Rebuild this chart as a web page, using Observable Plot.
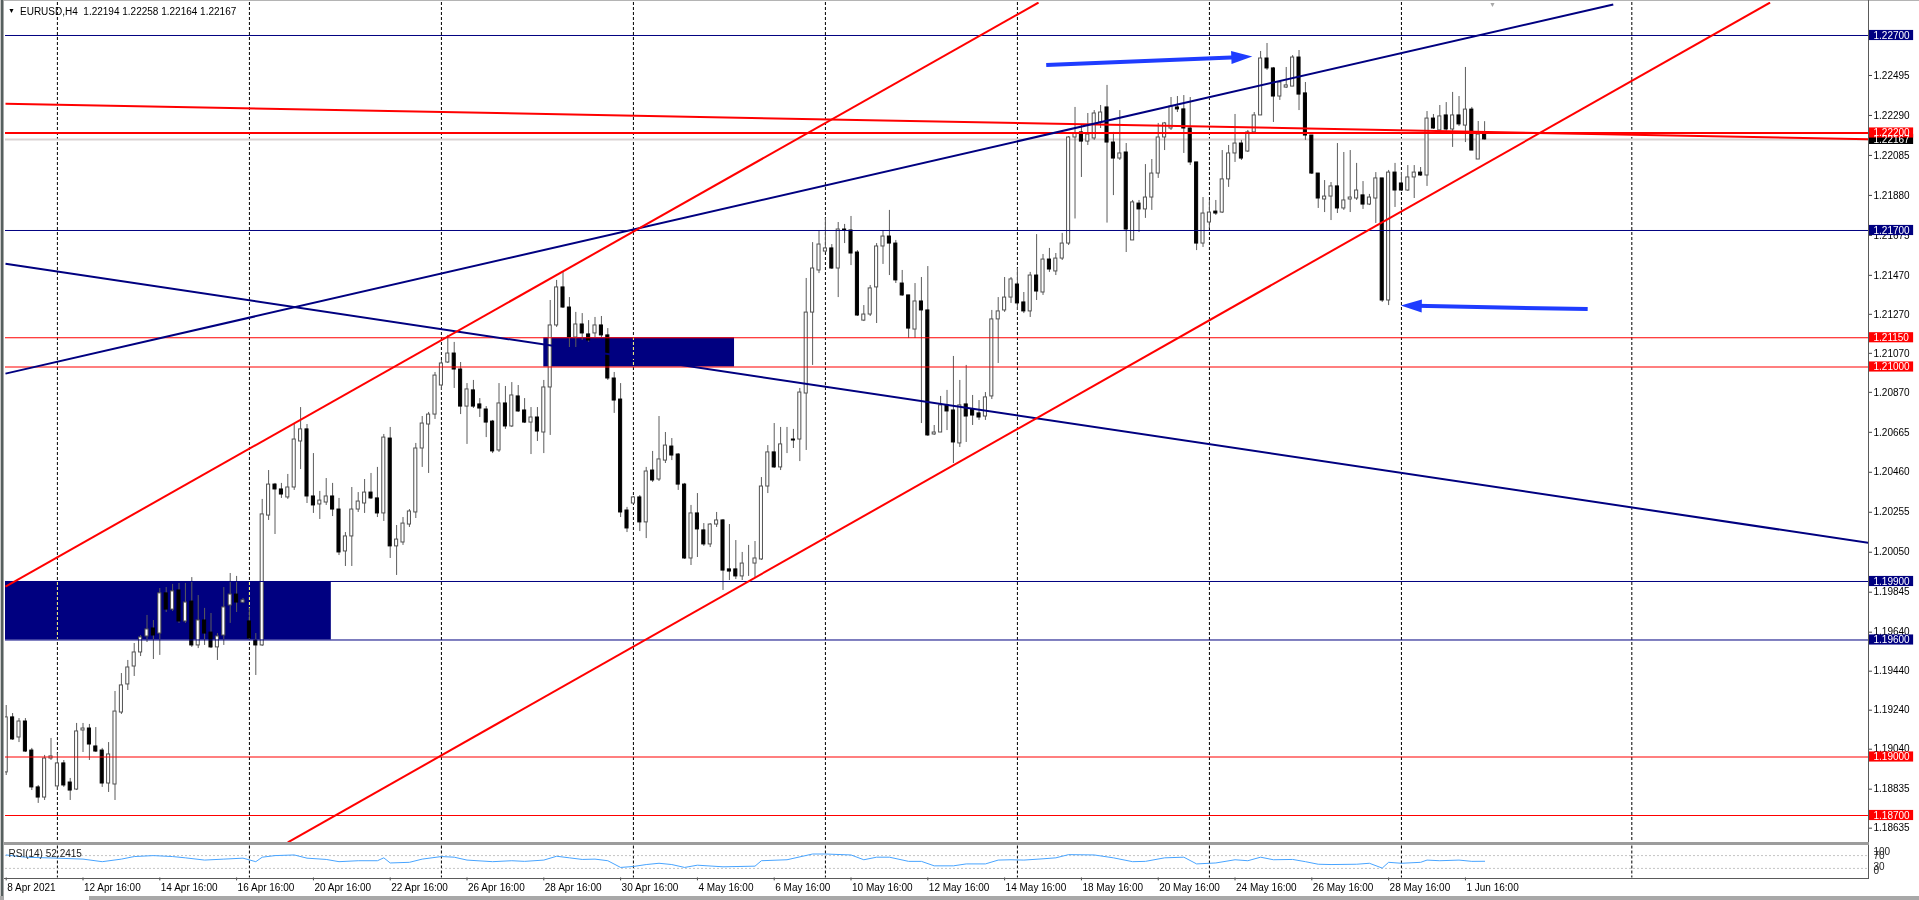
<!DOCTYPE html>
<html><head><meta charset="utf-8">
<script src="https://cdn.jsdelivr.net/npm/d3@7"></script>
<script src="https://cdn.jsdelivr.net/npm/@observablehq/plot@0.6"></script>
<style>
html,body{margin:0;padding:0;background:#fff;overflow:hidden;}
#wrap{position:relative;width:1919px;height:900px;font-family:"Liberation Sans",Arial,sans-serif;overflow:hidden;}
#main{position:absolute;left:0;top:0;}
#rsi{position:absolute;left:0;top:843px;}
.abs{position:absolute;}
</style></head><body><div id="wrap">
<div id="main"></div><div id="rsi"></div>
<div class="abs" style="left:0;top:0;width:1919px;height:1px;background:#b4b4b4"></div>
<div class="abs" style="left:0;top:0;width:4px;height:897px;background:linear-gradient(to right,#c8c8c8 0 1px,#56605f 1px 3px,#a8a8a8 3px 4px)"></div>
<div class="abs" style="left:1868px;top:0;width:1px;height:879px;background:#5a5a5a"></div>
<div class="abs" style="left:4px;top:842px;width:1865px;height:3px;background:#9c9c9c"></div>
<div class="abs" style="left:4px;top:878px;width:1865px;height:1px;background:#5a5a5a"></div>
<div class="abs" style="left:0;top:896px;width:1919px;height:4px;background:#a8a8a8"></div>
<div class="abs" style="left:4px;top:896px;width:85px;height:4px;background:#fff"></div>
<div class="abs" style="left:8px;top:6px;font-size:7px;line-height:10px;color:#000">&#9660;</div>
<div class="abs" id="hdr" style="left:20px;top:6px;font-size:10px;line-height:12px;color:#000;white-space:pre">EURUSD,H4  1.22194 1.22258 1.22164 1.22167</div>
<div class="abs" style="left:1489px;top:1px;font-size:7px;line-height:7px;color:#a8a8a8">&#9660;</div>
</div>
<script>
// ---------- data (H4 candles, bar index 0 = 8 Apr 2021 16:00) ----------
const open = [
1.18921,1.19203,1.19100,1.19182,1.19033,1.18844,1.18792,1.18992,1.18849,1.18967,
1.18869,1.18833,1.19136,1.19146,1.19054,1.19033,1.18864,1.18859,1.19228,1.19372,
1.19464,1.19536,1.19618,1.19659,1.19633,1.19839,1.19756,1.19854,1.19695,1.19797,
1.19572,1.19700,1.19638,1.19562,1.19623,1.19777,1.19833,1.19792,1.19695,1.19597,
1.19572,1.20238,1.20397,1.20372,1.20331,1.20382,1.20618,1.20680,1.20336,1.20295,
1.20305,1.20336,1.20269,1.20054,1.20131,1.20269,1.20300,1.20356,1.20326,1.20249,
1.20633,1.20080,1.20100,1.20192,1.20254,1.20582,1.20705,1.20756,1.20905,1.21023,
1.21069,1.20987,1.20797,1.20880,1.20808,1.20782,1.20720,1.20572,1.20813,1.20695,
1.20849,1.20777,1.20715,1.20741,1.20664,1.20895,1.21213,1.21408,1.21305,1.21151,
1.21218,1.21167,1.21172,1.21213,1.21162,1.20941,1.20833,1.20264,1.20300,1.20331,
1.20203,1.20469,1.20423,1.20520,1.20592,1.20551,1.20397,1.20018,1.20249,1.20162,
1.20090,1.20192,1.20213,1.19962,1.19962,1.19926,1.19997,1.19992,1.20013,1.20387,
1.20562,1.20485,1.20628,1.20628,1.20628,1.20864,1.21279,1.21495,1.21592,1.21608,
1.21505,1.21705,1.21700,1.21587,1.21238,1.21269,1.21408,1.21618,1.21669,1.21633,
1.21428,1.21367,1.21192,1.21336,1.21290,1.20654,1.20664,1.20803,1.20777,1.20608,
1.20808,1.20782,1.20762,1.20746,1.20849,1.21244,1.21290,1.21356,1.21423,1.21331,
1.21285,1.21469,1.21382,1.21551,1.21490,1.21556,1.21633,1.22177,1.22203,1.22156,
1.22172,1.22254,1.22331,1.22151,1.22069,1.22100,1.21649,1.21838,1.21808,1.21869,
1.21992,1.22177,1.22223,1.22331,1.22321,1.22223,1.22049,1.21633,1.21741,1.21797,
1.21792,1.21962,1.22095,1.22146,1.22105,1.22203,1.22290,1.22582,1.22531,1.22387,
1.22433,1.22438,1.22587,1.22403,1.22187,1.21992,1.21859,1.21874,1.21926,1.21813,
1.21859,1.21864,1.21880,1.21833,1.21864,1.21967,1.21341,1.21997,1.21941,1.21905,
1.21972,1.21997,1.21982,1.22274,1.22213,1.22290,1.22218,1.22290,1.22238,1.22320,
1.22064,1.22194];
const high = [
1.19264,1.19223,1.19197,1.19197,1.19044,1.18854,1.19008,1.19095,1.19018,1.18982,
1.18890,1.19172,1.19172,1.19167,1.19151,1.19044,1.19074,1.19336,1.19428,1.19495,
1.19582,1.19623,1.19726,1.19700,1.19864,1.19869,1.19885,1.19890,1.19890,1.19920,
1.19828,1.19762,1.19736,1.19633,1.19869,1.19941,1.19926,1.19813,1.19762,1.19633,
1.20321,1.20469,1.20403,1.20403,1.20449,1.20710,1.20792,1.20705,1.20556,1.20362,
1.20428,1.20403,1.20326,1.20151,1.20382,1.20356,1.20423,1.20454,1.20485,1.20654,
1.20690,1.20187,1.20228,1.20269,1.20608,1.20746,1.20767,1.20972,1.21033,1.21162,
1.21126,1.21023,1.20915,1.20931,1.20838,1.20797,1.20726,1.20915,1.20900,1.20920,
1.20905,1.20838,1.20792,1.20792,1.20931,1.21341,1.21444,1.21485,1.21356,1.21280,
1.21274,1.21238,1.21254,1.21259,1.21197,1.20972,1.20915,1.20280,1.20336,1.20341,
1.20485,1.20567,1.20746,1.20664,1.20633,1.20556,1.20403,1.20290,1.20351,1.20197,
1.20197,1.20254,1.20218,1.20192,1.20110,1.20049,1.20085,1.20105,1.20433,1.20597,
1.20710,1.20690,1.20690,1.20680,1.20890,1.21454,1.21638,1.21695,1.21762,1.21628,
1.21741,1.21731,1.21772,1.21597,1.21315,1.21418,1.21633,1.21700,1.21803,1.21649,
1.21495,1.21367,1.21428,1.21459,1.21515,1.20700,1.20849,1.20880,1.21054,1.20931,
1.21008,1.20854,1.20828,1.20869,1.21290,1.21356,1.21459,1.21459,1.21505,1.21382,
1.21485,1.21679,1.21577,1.21608,1.21582,1.21685,1.22182,1.22331,1.22238,1.22300,
1.22315,1.22341,1.22444,1.22203,1.22315,1.22146,1.21854,1.21854,1.22038,1.22064,
1.22249,1.22254,1.22382,1.22387,1.22392,1.22382,1.22049,1.21869,1.21854,1.21854,
1.22110,1.22136,1.22295,1.22162,1.22213,1.22305,1.22618,1.22659,1.22536,1.22464,
1.22536,1.22597,1.22623,1.22459,1.22187,1.21992,1.21956,1.21946,1.22146,1.22100,
1.22110,1.22044,1.21951,1.21885,1.21997,1.21967,1.22008,1.22044,1.21997,1.22033,
1.22033,1.22023,1.22310,1.22295,1.22341,1.22356,1.22408,1.22387,1.22536,1.22331,
1.22259,1.22258];
const low = [
1.18905,1.19085,1.19074,1.19023,1.18828,1.18762,1.18777,1.18982,1.18828,1.18844,
1.18777,1.18828,1.19023,1.18982,1.19023,1.18844,1.18818,1.18777,1.19218,1.19341,
1.19413,1.19515,1.19587,1.19500,1.19521,1.19741,1.19746,1.19685,1.19685,1.19562,
1.19556,1.19572,1.19556,1.19495,1.19572,1.19685,1.19741,1.19787,1.19597,1.19418,
1.19567,1.20213,1.20141,1.20326,1.20321,1.20367,1.20474,1.20300,1.20249,1.20218,
1.20290,1.20233,1.20033,1.19977,1.19977,1.20254,1.20249,1.20321,1.20228,1.20208,
1.20018,1.19931,1.20085,1.20177,1.20223,1.20485,1.20454,1.20731,1.20880,1.21018,
1.20890,1.20756,1.20603,1.20787,1.20741,1.20638,1.20556,1.20562,1.20680,1.20690,
1.20767,1.20710,1.20551,1.20618,1.20556,1.20649,1.21203,1.21300,1.21100,1.21100,
1.21136,1.21126,1.21151,1.21151,1.20931,1.20762,1.20228,1.20151,1.20300,1.20156,
1.20120,1.20408,1.20413,1.20505,1.20520,1.20367,1.20013,1.19982,1.20023,1.20080,
1.20074,1.20177,1.19854,1.19905,1.19910,1.19905,1.19926,1.19920,1.20008,1.20351,
1.20480,1.20469,1.20556,1.20582,1.20515,1.20572,1.21008,1.21479,1.21587,1.21500,
1.21356,1.21633,1.21520,1.21259,1.21233,1.21259,1.21223,1.21526,1.21469,1.21428,
1.21362,1.21146,1.21146,1.20710,1.20644,1.20649,1.20664,1.20674,1.20505,1.20587,
1.20613,1.20700,1.20726,1.20726,1.20833,1.21018,1.21280,1.21326,1.21290,1.21274,
1.21254,1.21341,1.21367,1.21485,1.21469,1.21546,1.21623,1.21759,1.21972,1.22136,
1.22162,1.22223,1.21738,1.21879,1.22059,1.21587,1.21649,1.21690,1.21762,1.21803,
1.21967,1.22110,1.22213,1.22305,1.22095,1.22033,1.21597,1.21613,1.21710,1.21777,
1.21787,1.21921,1.22049,1.22059,1.22100,1.22197,1.22290,1.22521,1.22254,1.22367,
1.22428,1.22438,1.22315,1.22162,1.21987,1.21813,1.21792,1.21751,1.21787,1.21803,
1.21792,1.21854,1.21808,1.21828,1.21736,1.21331,1.21315,1.21818,1.21900,1.21900,
1.21864,1.21977,1.21926,1.22218,1.22208,1.22208,1.22126,1.22233,1.22151,1.22110,
1.22064,1.22164];
const close = [
1.19203,1.19090,1.19182,1.19028,1.18844,1.18792,1.18992,1.19003,1.18967,1.18854,
1.18828,1.19131,1.19146,1.19064,1.19028,1.18864,1.19013,1.19233,1.19367,1.19459,
1.19536,1.19613,1.19654,1.19623,1.19839,1.19756,1.19849,1.19695,1.19792,1.19572,
1.19700,1.19633,1.19562,1.19618,1.19767,1.19833,1.19792,1.19803,1.19608,1.19572,
1.20244,1.20397,1.20372,1.20346,1.20382,1.20628,1.20680,1.20336,1.20290,1.20315,
1.20336,1.20269,1.20049,1.20131,1.20269,1.20310,1.20356,1.20326,1.20249,1.20638,
1.20080,1.20115,1.20197,1.20259,1.20582,1.20710,1.20756,1.20956,1.21018,1.21069,
1.20987,1.20797,1.20885,1.20797,1.20787,1.20715,1.20567,1.20813,1.20695,1.20854,
1.20772,1.20715,1.20741,1.20669,1.20895,1.21213,1.21408,1.21305,1.21151,1.21218,
1.21172,1.21136,1.21213,1.21162,1.20941,1.20828,1.20254,1.20172,1.20331,1.20203,
1.20464,1.20418,1.20526,1.20597,1.20546,1.20397,1.20018,1.20249,1.20167,1.20090,
1.20192,1.20213,1.19956,1.19951,1.19926,1.19992,1.19997,1.20018,1.20387,1.20562,
1.20485,1.20603,1.20628,1.20623,1.20869,1.21279,1.21505,1.21628,1.21608,1.21505,
1.21705,1.21700,1.21582,1.21264,1.21269,1.21403,1.21618,1.21669,1.21633,1.21444,
1.21367,1.21197,1.21336,1.21290,1.20649,1.20664,1.20803,1.20772,1.20613,1.20803,
1.20746,1.20751,1.20741,1.20844,1.21244,1.21285,1.21356,1.21449,1.21326,1.21285,
1.21469,1.21387,1.21551,1.21500,1.21556,1.21633,1.22177,1.22197,1.22156,1.22192,
1.22300,1.22305,1.22151,1.22069,1.22095,1.21705,1.21844,1.21808,1.21869,1.21992,
1.22177,1.22249,1.22336,1.22321,1.22223,1.22049,1.21633,1.21787,1.21792,1.21787,
1.21962,1.22095,1.22146,1.22069,1.22203,1.22290,1.22582,1.22531,1.22387,1.22459,
1.22444,1.22587,1.22397,1.22187,1.21992,1.21864,1.21874,1.21926,1.21813,1.21854,
1.21869,1.21905,1.21833,1.21869,1.21967,1.21341,1.21997,1.21905,1.21905,1.21972,
1.21997,1.21982,1.22274,1.22223,1.22285,1.22218,1.22290,1.22244,1.22320,1.22110,
1.22192,1.22167];

// RSI(14) samples (bar index, value)
const rsiBar = [0,3,8,12,15,18,20,23,26,28,31,34,37,39,40,42,45,47,50,52,55,58,59,60,63,65,68,70,72,76,79,81,84,86,88,90,92,94,96,98,100,102,104,106,108,112,117,118,122,126,128,132,134,136,138,141,143,145,148,150,153,155,157,159,162,164,166,170,173,176,178,181,184,186,189,192,194,196,198,201,203,205,207,211,213,215,216,218,221,222,224,227,229,231];
const rsiVal = [72,65,62,59,51,59,67,70,67,63,56,59,62,51,65,70,72,62,58,51,54,54,63,47,49,59,67,65,56,51,54,52,56,68,63,58,59,54,33,36,42,46,42,33,40,35,37,54,57,75,75,72,57,65,65,52,52,38,38,44,44,56,57,56,60,63,73,72,63,51,52,63,65,44,47,57,54,65,57,58,51,43,42,43,46,31,49,46,49,56,54,56,52,52.24];

// Axis ticks and time labels
const priceTicks = [1.22495,1.22290,1.22085,1.21880,1.21675,1.21470,1.21270,1.21070,1.20870,1.20665,1.20460,1.20255,1.20050,1.19845,1.19640,1.19440,1.19240,1.19040,1.18835,1.18635];
const timeLabelBars = [0,12,24,36,48,60,72,84,96,108,120,132,144,156,168,180,192,204,216,228];
const timeLabels = ["8 Apr 2021","12 Apr 16:00","14 Apr 16:00","16 Apr 16:00","20 Apr 16:00","22 Apr 16:00","26 Apr 16:00","28 Apr 16:00","30 Apr 16:00","4 May 16:00","6 May 16:00","10 May 16:00","12 May 16:00","14 May 16:00","18 May 16:00","20 May 16:00","24 May 16:00","26 May 16:00","28 May 16:00","1 Jun 16:00"];
const gridBars = [8,38,68,98,128,158,188,218,254];

// Horizontal levels
const levelPrice = [1.22700,1.21700,1.19900,1.19600,1.22200,1.21150,1.21000,1.19000,1.18700];
const levelColor = ["#000080","#000080","#000080","#000080","#ff0000","#ff0000","#ff0000","#ff0000","#ff0000"];
const levelWidth = [1,1,1,1,2,1.2,1.2,1.2,1.2];
const bidPrice = 1.22167;

// Price tags on the right scale
const tagPrice = [1.22700,1.22167,1.22200,1.21700,1.21150,1.21000,1.19900,1.19600,1.19000,1.18700];
const tagColor = ["#000080","#000000","#ff0000","#000080","#ff0000","#ff0000","#000080","#000080","#ff0000","#ff0000"];

// Trend lines (bar, price) -> (bar, price)
const trendX1 = [-0.11,-0.11,-0.11,44.0,-0.11];
const trendP1 = [1.22350,1.20966,1.21529,1.18562,1.19874];
const trendX2 = [290.98,251.1,290.98,275.6,161.3];
const trendP2 = [1.22168,1.22859,1.20098,1.22869,1.22869];
const trendColor = ["#ff0000","#000080","#000080","#ff0000","#ff0000"];

// Filled zones
const zoneX1 = [-5,84.0], zoneX2 = [50.8,113.8];
const zoneP1 = [1.19600,1.21000], zoneP2 = [1.19900,1.21150];

// Arrows (tail -> tip)
const arrowTailBar = [162.5,247.1], arrowTailPrice = [1.22549,1.21297];
const arrowTipBar = [194.7,217.9], arrowTipPrice = [1.22592,1.21315];

// ---------- drawing ----------
const W = 1919;
const xDomain = [-0.11, 290.98];
const yDomain = [1.185615, 1.228692];
const xR = xDomain[1];
const pxPerBar = 6.4, pxPerPrice = 19500;
const FONT = "'Liberation Sans', Arial, sans-serif";
const style = {fontFamily: FONT, fontSize: "10px", background: "transparent", overflow: "visible", maxWidth: "none"};
const arrowColor = "#1f3cff";

const candles = open.map((o, i) => ({i, o, h: high[i], l: low[i], c: close[i]}));
const levels = levelPrice.map((p, k) => ({p, c: levelColor[k], w: levelWidth[k]}));
const tags = tagPrice.map((p, k) => ({p, c: tagColor[k]}));
const trends = trendX1.map((x1, k) => ({x1, y1: trendP1[k], x2: trendX2[k], y2: trendP2[k], c: trendColor[k]}));
const zones = zoneX1.map((x1, k) => ({x1, x2: zoneX2[k], y1: zoneP1[k], y2: zoneP2[k]}));
const arrows = arrowTailBar.map((tx, k) => {
  const tp = arrowTailPrice[k], hx = arrowTipBar[k], hp = arrowTipPrice[k];
  const dxp = (hx - tx) * pxPerBar, dyp = -(hp - tp) * pxPerPrice;
  const len = Math.hypot(dxp, dyp), f = (len - 15) / len;
  return {tx, tp, hx, hp, sx: tx + (hx - tx) * f, sp: tp + (hp - tp) * f, angle: Math.atan2(dxp, -dyp) * 180 / Math.PI};
});
const headSymbol = {draw(ctx) { ctx.moveTo(0, 0); ctx.lineTo(-6.5, 21); ctx.lineTo(6.5, 21); ctx.closePath(); }};

const mainPlot = Plot.plot({
  width: W, height: 843,
  marginLeft: 5, marginRight: 51, marginTop: 2, marginBottom: 1,
  x: {domain: xDomain, axis: null},
  y: {domain: yDomain, axis: null},
  style,
  marks: [
    Plot.frame({fill: "white", stroke: null}),
    Plot.rect(zones, {x1: "x1", x2: "x2", y1: "y1", y2: "y2", fill: "#000080", clip: true}),
    Plot.ruleX(gridBars, {x: d => d, stroke: "white", strokeDasharray: "3,2", mixBlendMode: "difference"}),
    Plot.ruleY([bidPrice], {y: d => d, stroke: "#d9d2d2", strokeWidth: 2}),
    Plot.ruleX(candles, {x: "i", y1: "l", y2: "h", stroke: "#5c5c5c", strokeWidth: 1, clip: true}),
    Plot.rect(candles, {x1: d => d.i - 0.24, x2: d => d.i + 0.24,
      y1: d => Math.min(d.o, d.c), y2: d => Math.max(d.o, d.c),
      fill: d => d.c >= d.o ? "#ffffff" : "#000000",
      stroke: d => d.c >= d.o ? "#505050" : "#000000", strokeWidth: 1, clip: true}),
    Plot.ruleY(levels, {y: "p", stroke: "c", strokeWidth: "w"}),
    Plot.link(trends, {x1: "x1", y1: "y1", x2: "x2", y2: "y2", stroke: "c", strokeWidth: 2, clip: true}),
    Plot.link(arrows, {x1: "tx", y1: "tp", x2: "sx", y2: "sp", stroke: arrowColor, strokeWidth: 4}),
    Plot.dot(arrows, {x: "hx", y: "hp", symbol: headSymbol, rotate: "angle", fill: arrowColor, stroke: "none", r: 10}),
    Plot.axisY(priceTicks, {anchor: "right", tickSize: 3, tickPadding: 2, tickFormat: d => d.toFixed(5), fontSize: 10, stroke: "#444"}),
    Plot.rect(tags, {x1: xR + 0.06, x2: xR + 7.05, y1: d => d.p - 0.00026, y2: d => d.p + 0.00026, fill: "c", clip: false}),
    Plot.text(tags, {x: xR, dx: 5, y: "p", text: d => d.p.toFixed(5), fill: "white", textAnchor: "start", fontSize: 10, clip: false})
  ]
});
document.getElementById("main").appendChild(mainPlot);

const rsiData = rsiBar.map((i, k) => ({i, v: rsiVal[k]}));
const rsiAxis = [{v: 100, t: "100", dy: 6}, {v: 70, t: "70", dy: 0.5}, {v: 30, t: "30", dy: -2}, {v: 0, t: "0", dy: -7}];
const timeData = timeLabelBars.map((i, k) => ({i, t: timeLabels[k]}));

const rsiPlot = Plot.plot({
  width: W, height: 57,
  marginLeft: 5, marginRight: 51, marginTop: 2.5, marginBottom: 22.5,
  x: {domain: xDomain, axis: null},
  y: {domain: [0, 100], axis: null},
  style,
  marks: [
    Plot.frame({fill: "white", stroke: null}),
    Plot.ruleX(gridBars, {x: d => d, stroke: "black", strokeDasharray: "3,2"}),
    Plot.ruleY([30, 70], {y: d => d, stroke: "#c4c4c4", strokeDasharray: "2,2"}),
    Plot.line(rsiData, {x: "i", y: "v", stroke: "#48a4ff", strokeWidth: 1, clip: true}),
    Plot.text(["RSI(14) 52.2415"], {frameAnchor: "top-left", dx: 3, dy: 8, textAnchor: "start", lineAnchor: "middle", fill: "#222", fontSize: 10}),
    ...rsiAxis.map(a => Plot.text([a], {x: xR, dx: 5, y: "v", dy: a.dy, text: "t", textAnchor: "start", fontSize: 10, fill: "#222", clip: false})),
    Plot.ruleX(timeData, {x: "i", y1: 0, y2: -9, stroke: "#444", clip: false}),
    Plot.text(timeData, {x: "i", y: 0, dy: 10, dx: 1, text: "t", textAnchor: "start", fontSize: 10, fill: "#000", clip: false})
  ]
});
document.getElementById("rsi").appendChild(rsiPlot);
</script>
</body></html>
